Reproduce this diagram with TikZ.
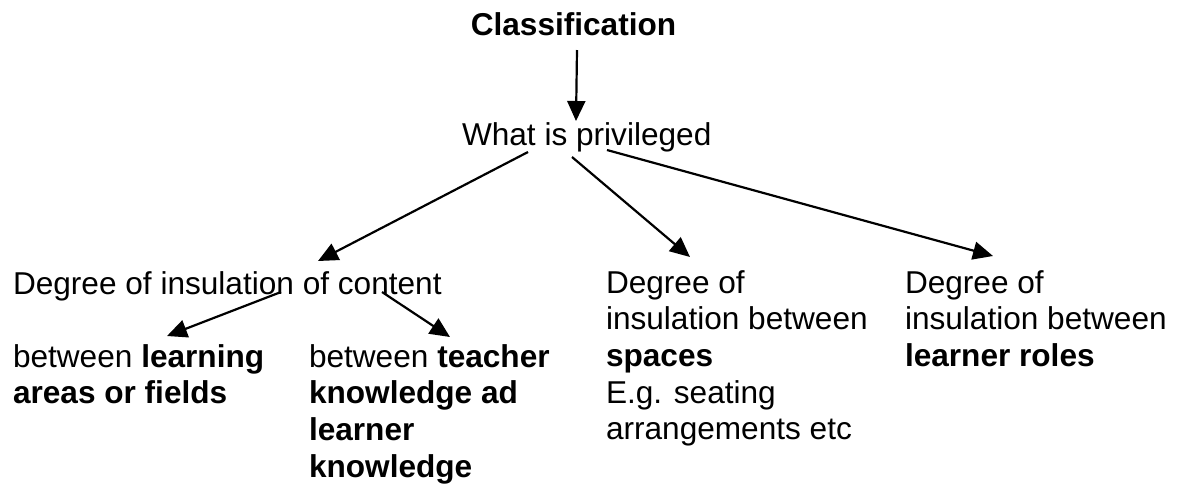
\documentclass[tikz,border=0pt]{standalone}
\usepackage{fontspec}
\setmainfont{Liberation Sans}
\usetikzlibrary{arrows.meta,calc}
% rows of a text block, baseline on the first row
\newcommand\textrows[1]{\begin{tabular}[t]{@{}l@{}}#1\end{tabular}}
\begin{document}
\begin{tikzpicture}[x=0.5pt,y=-0.5pt,
  txt/.style={inner sep=0pt,outer sep=0pt,anchor=base west,
    font=\fontsize{15.8}{18.35}\selectfont},
  link/.style={line width=1.1pt,-{Triangle[length=10pt,width=9pt]}}]
\useasboundingbox (0,0) rectangle (1185,484);

% top of the hierarchy
\node[txt,anchor=base,font=\fontsize{15.8}{18.35}\selectfont\bfseries] (cls) at (573.5,35) {Classification};
\node[txt] (what) at (462,145) {What is privileged};

% second level
\node[txt] (content) at (13,294) {Degree of insulation of content};
\node[txt] (spaces) at (606,293) {\textrows{Degree of\\insulation between\\\textbf{spaces}\\E.g. seating\\arrangements etc}};
\node[txt] (roles) at (905,293) {\textrows{Degree of\\insulation between\\\textbf{learner roles}}};

% third level under content
\node[txt] (fields) at (13,367) {\textrows{between \textbf{learning}\\\textbf{areas or fields}}};
\node[txt] (teacher) at (309,367) {\textrows{between \textbf{teacher}\\\textbf{knowledge ad}\\\textbf{learner}\\\textbf{knowledge}}};

% connectors
\draw[link] ($(cls.base)+(3.5,15)$) -- ($(what.base west)+(114,-24)$);
\draw[link] ($(what.base west)+(66,7)$) -- ($(content.base west)+(305,-33)$);
\draw[link] ($(what.base west)+(110,12)$) -- ($(spaces.base west)+(84,-36)$);
\draw[link] ($(what.base west)+(145,5)$) -- ($(roles.base west)+(88,-37)$);
\draw[link] ($(content.base west)+(268,-2)$) -- ($(fields.base west)+(154,-31)$);
\draw[link] ($(content.base west)+(369,-2)$) -- ($(teacher.base west)+(141,-30)$);
\end{tikzpicture}
\end{document}
